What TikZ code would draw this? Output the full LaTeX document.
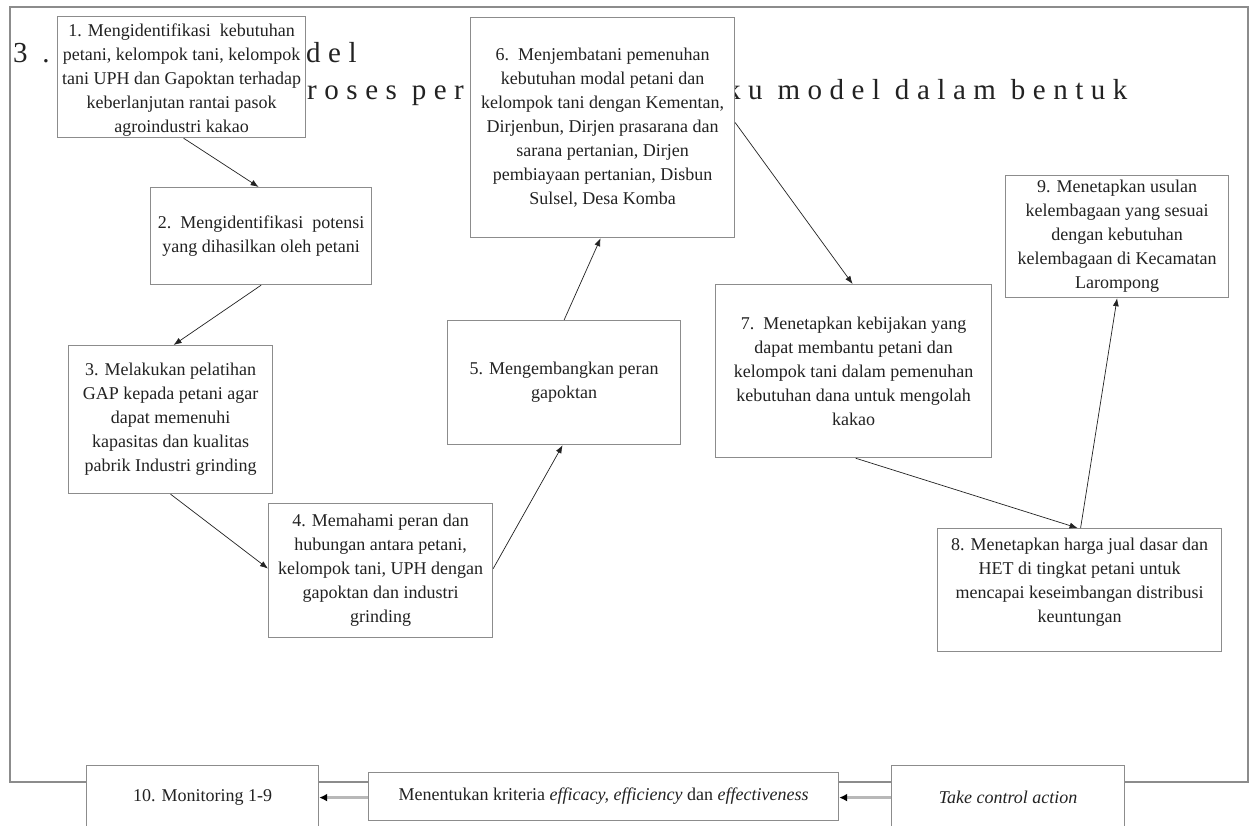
\documentclass[tikz,border=0pt]{standalone}
\usepackage{fontspec}
\setmainfont{Liberation Serif}
\newfontfamily\titlefont[LetterSpace=26]{Liberation Serif}
\usetikzlibrary{arrows.meta}
\definecolor{bordergray}{HTML}{8C8C8C}
\definecolor{txt}{HTML}{222222}
\definecolor{arrowgray}{HTML}{B8B8B8}
\begin{document}
\begin{tikzpicture}[x=1pt,y=-1pt,
  stepbox/.style={draw=bordergray, line width=1.2pt, fill=white, align=center,
    inner sep=0pt, anchor=north west, text=txt, font=\fontsize{18}{24}\selectfont},
  flow/.style={draw=txt, line width=0.7pt, -{Latex[length=8pt,width=6pt]}},
  bottomflow/.style={draw=arrowgray, line width=3pt, -{Latex[length=8pt,width=8pt,color=black]}},
  titletext/.style={anchor=base west, inner sep=0pt, text=txt, font=\titlefont\fontsize{29}{34}\selectfont}
]
\useasboundingbox (0,0) rectangle (1251,826);
\clip (0,0) rectangle (1251,826);
\fill[white] (0,0) rectangle (1251,826);
\draw[bordergray, line width=1.4pt] (10,7) rectangle (1248,782);

% background title fragments
\node[titletext] (t1) at (13,63) {3 .};
\node[titletext] (t2) at (306,63) {del};
\node[titletext] (t3) at (285,100) {proses per};
\node[titletext] (t4) at (726,100) {ku model dalam bentuk};

% process boxes
\node[stepbox, minimum width=248pt, minimum height=121pt] (b1) at (57,16)
  {\rule{0pt}{18pt}1. Mengidentifikasi\ \ kebutuhan\\ petani, kelompok tani, kelompok\\ tani UPH dan Gapoktan terhadap\\ keberlanjutan rantai pasok\\ agroindustri kakao};
\node[stepbox, minimum width=221pt, minimum height=97pt] (b2) at (150,187)
  {2.\ \ Mengidentifikasi\ \ potensi\\ yang dihasilkan oleh petani};
\node[stepbox, minimum width=204pt, minimum height=148pt] (b3) at (68,345)
  {3. Melakukan pelatihan\\ GAP kepada petani agar\\ dapat memenuhi\\ kapasitas dan kualitas\\ pabrik Industri grinding};
\node[stepbox, minimum width=224pt, minimum height=134pt] (b4) at (268,503)
  {4. Memahami peran dan\\ hubungan antara petani,\\ kelompok tani, UPH dengan\\ gapoktan dan industri\\ grinding};
\node[stepbox, minimum width=233pt, minimum height=124pt] (b5) at (447,320)
  {5. Mengembangkan peran\\ gapoktan};
\node[stepbox, minimum width=264pt, minimum height=220pt] (b6) at (470,17)
  {6.\ \ Menjembatani pemenuhan\\ kebutuhan modal petani dan\\ kelompok tani dengan Kementan,\\ Dirjenbun, Dirjen prasarana dan\\ sarana pertanian, Dirjen\\ pembiayaan pertanian, Disbun\\ Sulsel, Desa Komba};
\node[stepbox, minimum width=276pt, minimum height=173pt] (b7) at (715,284)
  {7.\ \ Menetapkan kebijakan yang\\ dapat membantu petani dan\\ kelompok tani dalam pemenuhan\\ kebutuhan dana untuk mengolah\\ kakao};
\node[stepbox, minimum width=284pt, minimum height=123pt] (b8) at (937,528)
  {8. Menetapkan harga jual dasar dan\\ HET di tingkat petani untuk\\ mencapai keseimbangan distribusi\\ keuntungan\rule[-20pt]{0pt}{0pt}};
\node[stepbox, minimum width=223pt, minimum height=122pt] (b9) at (1005,175)
  {9. Menetapkan usulan\\ kelembagaan yang sesuai\\ dengan kebutuhan\\ kelembagaan di Kecamatan\\ Larompong};

% bottom row
\node[stepbox, minimum width=232pt, minimum height=64pt] (b10) at (86,765)
  {10. Monitoring 1-9};
\node[stepbox, minimum width=470pt, minimum height=48pt] (b11) at (368,772)
  {Menentukan kriteria \textit{efficacy, efficiency} dan \textit{effectiveness}};
\node[stepbox, minimum width=233pt, minimum height=64pt] (b12) at (891,765)
  {\textit{Take control action}};

% connectors
\draw[flow] ([xshift=2pt]b1.south) -- ([xshift=-2.5pt]b2.north);
\draw[flow] (b2.south) -- ([xshift=3pt]b3.north);
\draw[flow] (b3.south) -- ([yshift=2pt]b4.west);
\draw[flow] ([yshift=2pt]b4.east) -- ([xshift=-1.5pt]b5.south);
\draw[flow] (b5.north) -- ([xshift=-2pt]b6.south);
\draw[flow] ([yshift=5pt]b6.east) -- ([xshift=-1pt]b7.north);
\draw[flow] ([xshift=2pt]b7.south) -- ([xshift=-2pt]b8.north);
\draw[flow] ([xshift=1pt]b8.north) -- (b9.south);
\draw[bottomflow] (b12.west) -- (b11.east |- b12.west);
\draw[bottomflow] (b11.west |- b12.west) -- (b10.east |- b12.west);
\end{tikzpicture}
\end{document}
